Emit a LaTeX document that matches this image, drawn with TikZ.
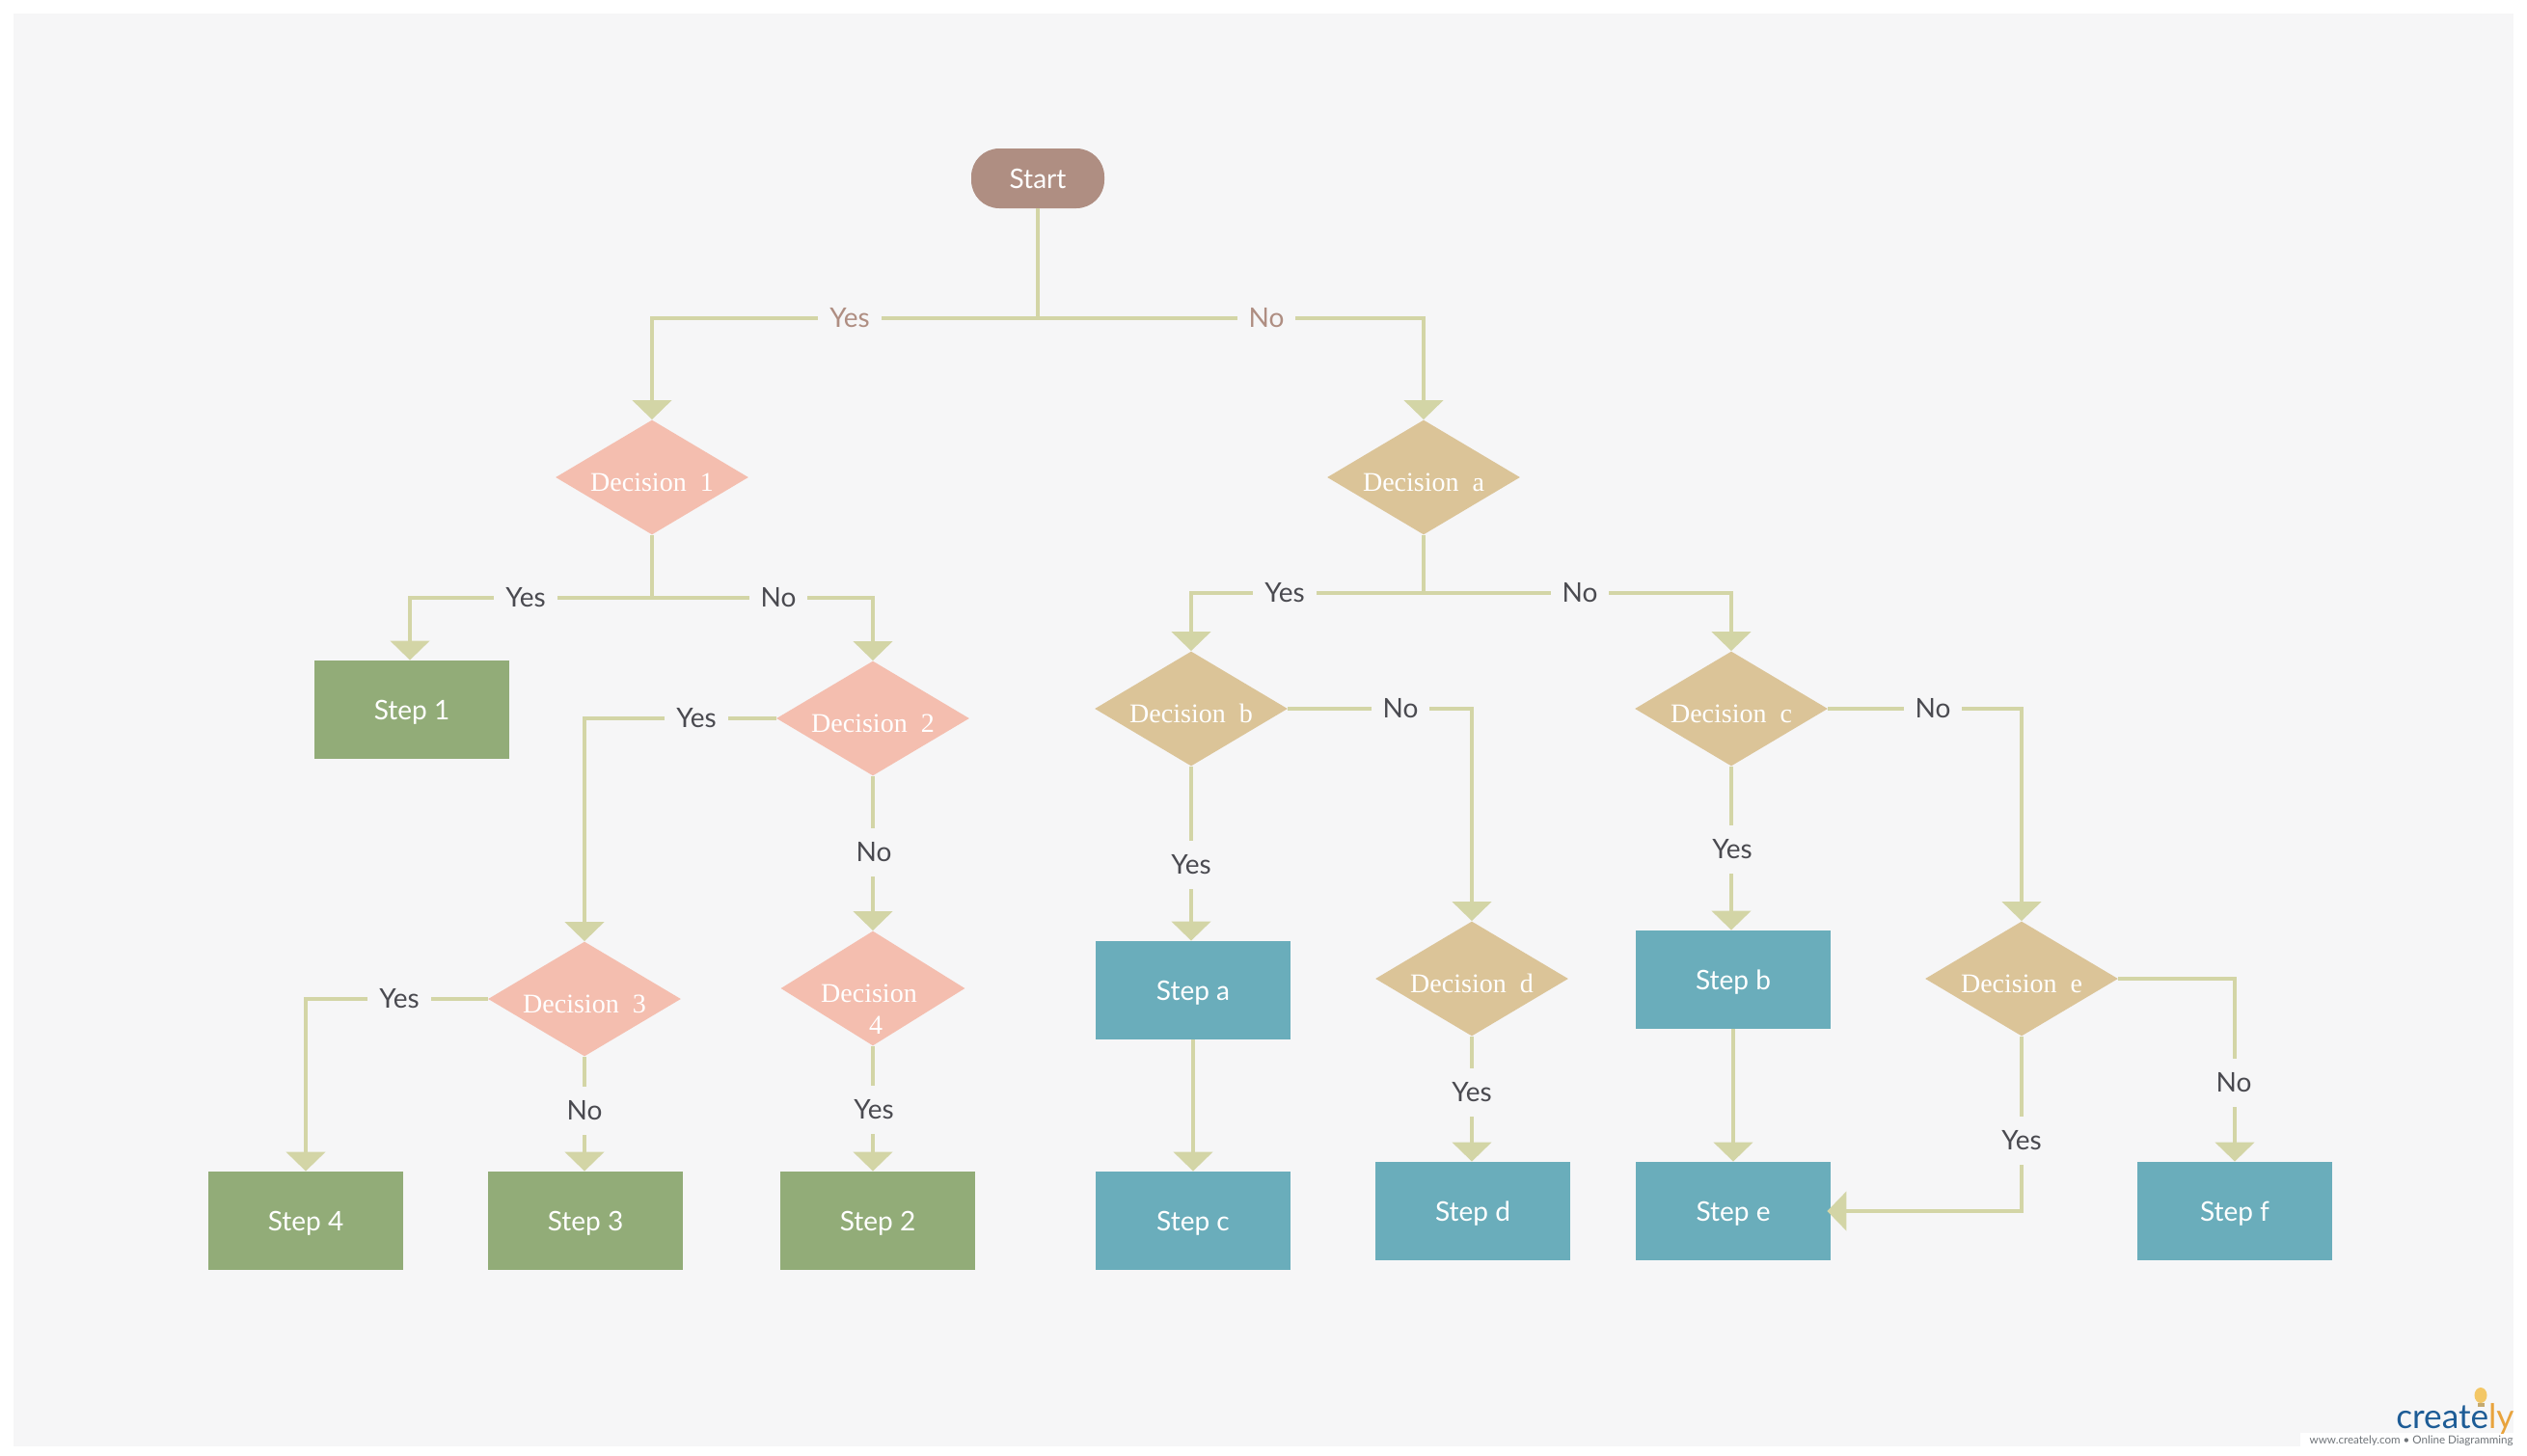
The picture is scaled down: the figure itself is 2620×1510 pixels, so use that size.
\documentclass[tikz,border=0pt]{standalone}
\usepackage{fontspec}
\setmainfont{Lato}
\newfontfamily\dserif{Liberation Serif}
\usetikzlibrary{arrows.meta,shapes.geometric}
\definecolor{pagebg}{HTML}{F6F6F7}
\definecolor{linec}{HTML}{D3D5A6}
\definecolor{startc}{HTML}{AF8E82}
\definecolor{pinkc}{HTML}{F4BEAF}
\definecolor{tanc}{HTML}{DBC498}
\definecolor{greenc}{HTML}{92AC78}
\definecolor{tealc}{HTML}{6AADBB}
\definecolor{darktxt}{HTML}{4A4A50}
\definecolor{logoblue}{HTML}{1D5C96}
\definecolor{logoorange}{HTML}{E8A33D}
\definecolor{bulbc}{HTML}{F3C766}
\definecolor{logogrey}{HTML}{6E7378}
\newcommand{\dlab}[1]{\raisebox{-7pt}[0pt][0pt]{\dserif\fontsize{14pt}{16pt}\selectfont #1}}
\tikzset{
  conn/.style={draw=linec,line width=2.3pt},
  arr/.style={conn,-{Triangle[width=20pt,length=10pt,fill=linec]}},
  dia/.style={shape=diamond,aspect=1.68,inner sep=0pt,minimum width=100pt,minimum height=59.5pt,text=white,align=center},
  pinkd/.style={dia,fill=pinkc},
  tand/.style={dia,fill=tanc},
  stepbox/.style={shape=rectangle,inner sep=0pt,minimum width=101pt,minimum height=51pt,text=white,text depth=0pt,font=\fontsize{14pt}{16pt}\selectfont},
  greenb/.style={stepbox,fill=greenc},
  tealb/.style={stepbox,fill=tealc},
  lbl/.style={fill=pagebg,text=darktxt,inner xsep=6pt,inner ysep=0pt,minimum height=25pt,font=\fontsize{14pt}{16pt}\selectfont},
  lblb/.style={lbl,text=startc}
}
\begin{document}
\begin{tikzpicture}[x=0.5pt,y=-0.5pt]
\useasboundingbox (0,0) rectangle (2620,1510);
\fill[white] (0,0) rectangle (2620,1510);
\fill[pagebg] (14,14) rectangle (2606,1500);
% nodes
\node[shape=rectangle,fill=startc,text=white,rounded corners=14.5pt,minimum width=69pt,minimum height=31pt,inner sep=0pt,font=\fontsize{14pt}{16pt}\selectfont] (start) at (1076,185) {Start};
\node[pinkd] (d1) at (676,495) {\dlab{Decision\ \ 1}};
\node[tand] (da) at (1476,495) {\dlab{Decision\ \ a}};
\node[pinkd] (d2) at (905,745) {\dlab{Decision\ \ 2}};
\node[pinkd] (d3) at (606,1036) {\dlab{Decision\ \ 3}};
\node[pinkd,minimum width=95.5pt,aspect=1.63,font=\dserif\fontsize{14pt}{16pt}\selectfont] (d4) at (905,1025) {\makebox[0pt]{\hspace{-4pt}\raisebox{-7pt}[0pt][0pt]{Decision}}\makebox[0pt]{\hspace{3pt}\raisebox{-23.5pt}[0pt][0pt]{4}}};
\node[tand] (db) at (1235,735) {\dlab{Decision\ \ b}};
\node[tand] (dc) at (1795,735) {\dlab{Decision\ \ c}};
\node[tand] (dd) at (1526,1015) {\dlab{Decision\ \ d}};
\node[tand] (de) at (2096,1015) {\dlab{Decision\ \ e}};
\node[greenb] (s1) at (427,736) {Step 1};
\node[greenb] (s4) at (317,1266) {Step 4};
\node[greenb] (s3) at (607,1266) {Step 3};
\node[greenb] (s2) at (910,1266) {Step 2};
\node[tealb] (sa) at (1237,1027) {Step a};
\node[tealb] (sc) at (1237,1266) {Step c};
\node[tealb] (sb) at (1797,1016) {Step b};
\node[tealb] (sd) at (1527,1256) {Step d};
\node[tealb] (se) at (1797,1256) {Step e};
\node[tealb] (sf) at (2317,1256) {Step f};
% junctions
\coordinate (j0) at (start.south |- 0,330);
\coordinate (j1) at (d1.south |- 0,620);
\coordinate (ja) at (da.south |- 0,615);
% connectors
\draw[conn] (start.south) -- (j0);
\draw[arr] (j0) -| (d1.north);
\draw[arr] (j0) -| (da.north);
\draw[conn] (d1.south) -- (j1);
\draw[arr] (j1) -| (s1.north -| 425,0);
\draw[arr] (j1) -| (d2.north);
\draw[conn] (da.south) -- (ja);
\draw[arr] (ja) -| (db.north);
\draw[arr] (ja) -| (dc.north);
\draw[arr] (d2.west) -| (d3.north);
\draw[arr] (d2.south) -- (d4.north);
\draw[arr] (d3.west) -| (s4.north);
\draw[arr] (d3.south) -- (s3.north -| d3.south);
\draw[arr] (d4.south) -- (s2.north -| d4.south);
\draw[arr] (db.south) -- (sa.north -| db.south);
\draw[arr] (sa.south) -- (sc.north);
\draw[arr] (db.east) -| (dd.north);
\draw[arr] (dd.south) -- (sd.north -| dd.south);
\draw[arr] (dc.south) -- (sb.north -| dc.south);
\draw[arr] (sb.south) -- (se.north);
\draw[arr] (dc.east) -| (de.north);
\draw[arr] (de.south) |- ([xshift=-2pt]se.east);
\draw[arr] (de.east) -| (sf.north);
% labels
\node[lblb] (l1) at (881,330) {Yes};
\node[lblb] (l2) at (1313,330) {No};
\node[lbl] (l3) at (545,620) {Yes};
\node[lbl] (l4) at (807,620) {No};
\node[lbl] (l5) at (1332,615) {Yes};
\node[lbl] (l6) at (1638,615) {No};
\node[lbl] (l7) at (722,745) {Yes};
\node[lbl] (l8) at (906,884) {No};
\node[lbl] (l9) at (414,1036) {Yes};
\node[lbl] (l10) at (606,1152) {No};
\node[lbl] (l11) at (906,1151) {Yes};
\node[lbl] (l12) at (1235,897) {Yes};
\node[lbl] (l13) at (1452,735) {No};
\node[lbl] (l14) at (1526,1133) {Yes};
\node[lbl] (l15) at (1796,881) {Yes};
\node[lbl] (l16) at (2004,735) {No};
\node[lbl] (l17) at (2096,1183) {Yes};
\node[lbl] (l18) at (2316,1123) {No};
% logo
\fill[white] (2385,1486) rectangle (2612,1510);
\node[anchor=east,inner sep=0pt,font=\fontsize{17.6pt}{19pt}\selectfont] (logo) at (2607,1472) {\textcolor{logoblue}{create}\textcolor{logoorange}{ly}};
\fill[bulbc] (2572,1447) ellipse [x radius=6.5,y radius=8];
\fill[bulbc!60!gray] (2568.5,1455) rectangle (2575.5,1459);
\node[anchor=east,inner sep=0pt,text=logogrey,font=\fontsize{5.8pt}{7pt}\selectfont] (logourl) at (2606,1494) {www.creately.com • Online Diagramming};
\end{tikzpicture}
\end{document}
